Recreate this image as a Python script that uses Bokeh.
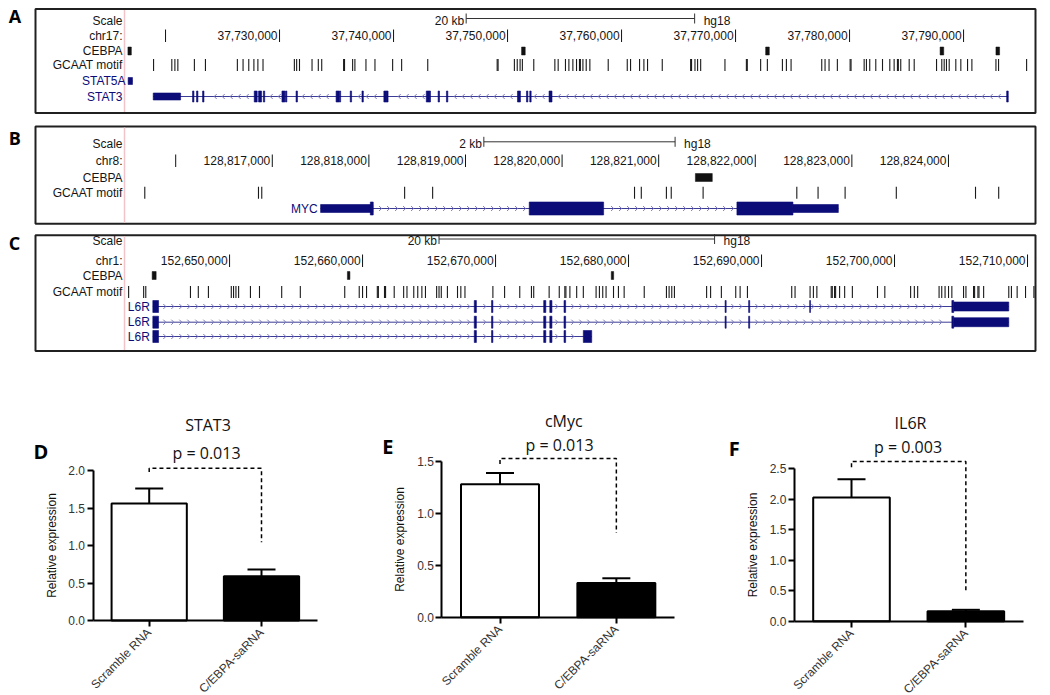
import math
import numpy as np
from bokeh.plotting import figure
from bokeh.layouts import column, row
from bokeh.models import (Range1d, ColumnDataSource, LinearAxis, FixedTicker,
                          NumeralTickFormatter, Whisker, TeeHead)
from bokeh.core.properties import value
from bokeh.embed import file_html
from bokeh.resources import INLINE

# ======================= DATA =======================
# ---- Panel A : chr17 (hg18), STAT3 locus ----
A_chrom = "chr17:"
A_view = [37716400, 37796310]
A_ticks = [37720000, 37730000, 37740000, 37750000, 37760000, 37770000, 37780000, 37790000]
A_tick_labels = ["", "37,730,000", "37,740,000", "37,750,000", "37,760,000",
                 "37,770,000", "37,780,000", "37,790,000"]
A_scalebar = [37746370, 37766410]
A_scalebar_label = "20 kb"
A_cebpa_start = [37716700, 37751230, 37772640, 37787940, 37792840]
A_cebpa_end = [37717000, 37751550, 37772960, 37788260, 37793160]
A_motifs = [37718950, 37720550, 37720820, 37721080, 37722530, 37723500,
            37726300, 37726800, 37727300, 37727750, 37728100, 37728550,
            37731300, 37731500, 37731750, 37732850, 37733400, 37733700,
            37735620, 37735700, 37736410, 37736610, 37737580, 37738370,
            37739920, 37740710, 37743000, 37749090, 37749170, 37750600,
            37750850, 37751100, 37751300, 37752300, 37754150, 37754440,
            37755080, 37755380, 37755730, 37756050, 37756310, 37756390,
            37756610, 37756900, 37757220, 37758830, 37760500, 37760790,
            37761580, 37761960, 37762280, 37763570, 37766060, 37766140,
            37766440, 37766670, 37766940, 37769070, 37770950, 37771030,
            37772200, 37772790, 37774110, 37774460, 37774870, 37777560,
            37777850, 37778200, 37778930, 37780050, 37780130, 37781280,
            37781480, 37781770, 37782300, 37782890, 37783530, 37783910,
            37784200, 37784280, 37784490, 37785230, 37785670, 37787630,
            37788090, 37788300, 37788500, 37788740, 37789320, 37789760,
            37790350, 37790730, 37792840, 37793070, 37795530]
STAT5A_tx = [37716720, 37717100]
STAT5A_strand = 1
STAT5A_exon_start = [37716720]
STAT5A_exon_end = [37717100]
STAT5A_exon_kind = ["utr"]
STAT3_tx = [37718920, 37793920]
STAT3_strand = -1
STAT3_exon_start = [37718920, 37722370, 37722720, 37723250, 37727780, 37728160, 37728580,
                    37730210, 37730520, 37731450, 37734960, 37735240, 37736200, 37737230,
                    37739150, 37739400, 37742870, 37743120, 37743910, 37744640, 37750870,
                    37751660, 37751950, 37753640, 37793780]
STAT3_exon_end = [37721320, 37722490, 37722840, 37723370, 37728040, 37728420, 37728700,
                  37730470, 37730640, 37731570, 37735220, 37735360, 37736320, 37737350,
                  37739410, 37739520, 37743130, 37743240, 37744030, 37744760, 37751130,
                  37751780, 37752070, 37753900, 37793920]
STAT3_exon_kind = ["utr", "cds", "cds", "cds", "cds", "cds", "cds", "cds", "cds", "cds",
                   "cds", "cds", "cds", "cds", "cds", "cds", "cds", "cds", "cds", "cds",
                   "cds", "cds", "cds", "cds", "cds"]

# ---- Panel B : chr8 (hg18), MYC locus ----
B_chrom = "chr8:"
B_view = [128815470, 128824901]
B_ticks = [128816000, 128817000, 128818000, 128819000, 128820000, 128821000,
           128822000, 128823000, 128824000]
B_tick_labels = ["", "128,817,000", "128,818,000", "128,819,000", "128,820,000",
                 "128,821,000", "128,822,000", "128,823,000", "128,824,000"]
B_scalebar = [128819190, 128821170]
B_scalebar_label = "2 kb"
B_cebpa_start = [128821380]
B_cebpa_end = [128821555]
B_motifs = [128815680, 128816857, 128816891, 128818370, 128818660, 128820750,
            128820820, 128821080, 128821130, 128821460, 128822430, 128822650,
            128822930, 128823460, 128824280, 128824520]
MYC_tx = [128817500, 128822860]
MYC_strand = 1
MYC_exon_start = [128817500, 128818015, 128819660, 128821810, 128822390]
MYC_exon_end = [128818040, 128818045, 128820430, 128822390, 128822860]
MYC_exon_kind = ["utr", "cds", "cds", "cds", "utr"]

# ---- Panel C : chr1 (hg18), IL6R locus ----
C_chrom = "chr1:"
C_view = [152642100, 152710600]
C_ticks = [152650000, 152660000, 152670000, 152680000, 152690000, 152700000, 152710000]
C_tick_labels = ["152,650,000", "152,660,000", "152,670,000", "152,680,000",
                 "152,690,000", "152,700,000", "152,710,000"]
C_scalebar = [152665750, 152686470]
C_scalebar_label = "20 kb"
C_cebpa_start = [152644180, 152658860, 152678700]
C_cebpa_end = [152644480, 152659050, 152678880]
C_motifs = [152642410, 152643540, 152643700, 152647060, 152647650, 152648410,
            152650130, 152650300, 152650480, 152650680, 152651570, 152652250,
            152653920, 152655320, 152658660, 152659750, 152660000, 152660300,
            152661110, 152661190, 152661650, 152661730, 152662380, 152663090,
            152663340, 152663850, 152664150, 152664460, 152664730, 152665570,
            152665750, 152665920, 152666380, 152667140, 152667390, 152667700,
            152669800, 152670680, 152671820, 152672700, 152672870, 152674030,
            152674790, 152675210, 152675290, 152675590, 152676100, 152676600,
            152677560, 152677810, 152678060, 152678310, 152678870, 152679240,
            152679670, 152681180, 152682850, 152683050, 152683250, 152683450,
            152685870, 152686170, 152686980, 152688060, 152688390, 152688940,
            152692270, 152692520, 152693650, 152693900, 152694160, 152695240,
            152695320, 152695490, 152695570, 152695870, 152696250, 152696830,
            152698720, 152699270, 152701210, 152701490, 152701740, 152703350,
            152703550, 152703800, 152704060, 152704310, 152705190, 152705370,
            152705940, 152706020, 152706270, 152706350, 152706700, 152708590,
            152708790, 152709220, 152709850, 152710480]
IL6R_label = "L6R"
IL6R_strand = 1
IL6R_1_tx = [152644230, 152708590]
IL6R_1_exon_start = [152644230, 152668400, 152669700, 152673620, 152674080, 152675150,
                     152687260, 152689030, 152693620, 152704310, 152704450]
IL6R_1_exon_end = [152644660, 152668560, 152669800, 152673780, 152674240, 152675270,
                   152687340, 152689110, 152693680, 152704450, 152708590]
IL6R_1_exon_kind = ["cds", "cds", "cds", "cds", "cds", "cds", "cds", "cds", "cds", "cds", "utr"]
IL6R_2_tx = [152644230, 152708590]
IL6R_2_exon_start = [152644230, 152668400, 152669700, 152673620, 152674080, 152675150,
                     152687260, 152689030, 152704310, 152704450]
IL6R_2_exon_end = [152644660, 152668560, 152669800, 152673780, 152674240, 152675270,
                   152687340, 152689110, 152704450, 152708590]
IL6R_2_exon_kind = ["cds", "cds", "cds", "cds", "cds", "cds", "cds", "cds", "cds", "utr"]
IL6R_3_tx = [152644230, 152677230]
IL6R_3_exon_start = [152644230, 152668400, 152669700, 152673620, 152674080, 152675150, 152676600]
IL6R_3_exon_end = [152644660, 152668560, 152669800, 152673780, 152674240, 152675270, 152677230]
IL6R_3_exon_kind = ["cds", "cds", "cds", "cds", "cds", "cds", "cds"]

# ---- Panels D-F : qPCR bar charts ----
categories = ["Scramble RNA", "C/EBPA-saRNA"]
STAT3_mean = [1.56, 0.59]
STAT3_sem = [0.20, 0.09]
cMyc_mean = [1.28, 0.33]
cMyc_sem = [0.11, 0.045]
IL6R_mean = [2.03, 0.165]
IL6R_sem = [0.30, 0.022]
D_yticks = [0.0, 0.5, 1.0, 1.5, 2.0]
E_yticks = [0.0, 0.5, 1.0, 1.5]
F_yticks = [0.0, 0.5, 1.0, 1.5, 2.0, 2.5]
# bracket: [left stub end, top, right leg end]
D_bracket = [1.98, 2.03, 1.045]
E_bracket = [1.477, 1.53, 0.81]
F_bracket = [2.525, 2.62, 0.476]
D_p = "p = 0.013"
E_p = "p = 0.013"
F_p = "p = 0.003"

# ======================= STYLE / LAYOUT =======================
FONT = "Liberation Sans"
TFONT = "Open Sans"
NAVY = "#0c0c78"
INTRON = "#3c3c96"
CHEV = "#7a7ac2"
INK = "#151515"
PAGE_L = 0
W = 1050
BOX_L, BOX_R, PINK_X, LABEL_R = 35, 1035, 124, 122


def txt(p, x, y, text, size, color=INK, align="left", baseline="middle",
        font=FONT, style="normal", x_offset=0, angle=0.0):
    p.text(x=x, y=y, text=text, text_font=value(font), text_font_size=f"{size}px",
           text_color=color, text_align=align, text_baseline=baseline,
           text_font_style=style, x_offset=x_offset, angle=angle)


def genome_panel(fig_top, fig_bottom, box_top, box_bottom, letter, letter_base,
                 view, rows, chrom, ticks, tick_labels, scalebar, scalebar_label,
                 cebpa_start, cebpa_end, motifs, genes, exon_h):
    g0, g1 = view
    bpp = (g1 - g0) / (BOX_R - PINK_X)

    def gx(px):
        return g0 + (px - PINK_X) * bpp

    p = figure(width=W, height=fig_bottom - fig_top,
               x_range=Range1d(gx(PAGE_L), gx(PAGE_L + W)),
               y_range=Range1d(fig_bottom, fig_top),
               x_axis_type=None, y_axis_type=None, output_backend="svg",
               toolbar_location=None, min_border=0)
    p.outline_line_color = None
    p.background_fill_color = "white"

    # panel box and track-label separator
    p.quad(left=[gx(BOX_L)], right=[gx(BOX_R)], top=[box_top], bottom=[box_bottom],
           fill_color=None, line_color="#202020", line_width=2)
    p.segment(x0=[g0], x1=[g0], y0=[box_top + 1], y1=[box_bottom - 1],
              line_color="#f2c4ca", line_width=1.5)
    txt(p, [gx(8.3)], [letter_base], [letter], 18, color="#000000",
        baseline="alphabetic", font=TFONT, style="bold")

    # track labels
    txt(p, [gx(LABEL_R)] * 4, [rows["scale"], rows["chr"], rows["cebpa"], rows["motif"]],
        ["Scale", chrom, "CEBPA", "GCAAT motif"], 12, align="right")

    # scale bar
    s0, s1 = scalebar
    by = rows["scale"] - 2
    p.segment(x0=[s0, s0, s1], x1=[s1, s0, s1], y0=[by, by - 5, by - 5],
              y1=[by, by + 5, by + 5], line_color="#333333", line_width=1)
    txt(p, [s0], [rows["scale"]], [scalebar_label], 12, align="right", x_offset=-2)
    txt(p, [s1], [rows["scale"]], ["hg18"], 12, align="left", x_offset=9)

    # chromosome ruler
    cy = rows["chr"]
    p.segment(x0=ticks, x1=ticks, y0=[cy - 6] * len(ticks), y1=[cy + 6.5] * len(ticks),
              line_color="#111111", line_width=1)
    lab_x = [t for t, l in zip(ticks, tick_labels) if l]
    lab_t = [l for l in tick_labels if l]
    txt(p, lab_x, [cy] * len(lab_x), lab_t, 12, align="right", x_offset=-2)

    # CEBPA peaks
    ky = rows["cebpa"]
    p.quad(left=cebpa_start, right=cebpa_end, top=[ky - 4] * len(cebpa_start),
           bottom=[ky + 4] * len(cebpa_start), fill_color="#111111",
           line_color="#111111", line_width=0.5)

    # GCAAT motifs
    my = rows["motif"]
    p.segment(x0=motifs, x1=motifs, y0=[my - 6] * len(motifs), y1=[my + 6] * len(motifs),
              line_color="#1a1a1a", line_width=1.1)

    # gene models
    for g in genes:
        y = g["y"]
        t0, t1 = g["tx"]
        starts, ends, kinds = g["start"], g["end"], g["kind"]
        if t1 - t0 > 0:
            p.segment(x0=[t0], x1=[t1], y0=[y], y1=[y], line_color=INTRON, line_width=1)
        # strand chevrons along the introns
        step = 8 * bpp
        arm = 2.5 * bpp
        cand = np.arange(t0 + 5 * bpp, t1 - 3 * bpp, step)
        ok = [float(c) for c in cand
              if all(not (a - 2.5 * bpp <= c <= b + 2.5 * bpp) for a, b in zip(starts, ends))]
        if ok:
            back = -arm if g["strand"] > 0 else arm
            n = len(ok)
            p.segment(x0=ok + ok, x1=[c + back for c in ok] * 2,
                      y0=[y] * (2 * n), y1=[y - 2.5] * n + [y + 2.5] * n,
                      line_color=CHEV, line_width=1)
        hs = [exon_h[k] for k in kinds]
        p.quad(left=starts, right=ends, top=[y - h / 2 for h in hs],
               bottom=[y + h / 2 for h in hs], fill_color=NAVY, line_color=NAVY,
               line_width=0.6)
        if g["label_at"] == "margin":
            txt(p, [gx(g.get("label_r", LABEL_R))], [y], [g["name"]], 12, color=NAVY,
                align="right")
        else:
            txt(p, [t0], [y], [g["name"]], 12, color=NAVY, align="right", x_offset=-3)
    return p


pA = genome_panel(0, 119, 8.5, 112.5, "A", 15.5, A_view,
                  dict(scale=20, chr=35, cebpa=50.5, motif=64.5), A_chrom, A_ticks,
                  A_tick_labels, A_scalebar, A_scalebar_label, A_cebpa_start,
                  A_cebpa_end, A_motifs,
                  [dict(name="STAT5A", y=80.5, tx=STAT5A_tx, strand=STAT5A_strand,
                        start=STAT5A_exon_start, end=STAT5A_exon_end,
                        kind=STAT5A_exon_kind, label_at="margin", label_r=125),
                   dict(name="STAT3", y=96, tx=STAT3_tx, strand=STAT3_strand,
                        start=STAT3_exon_start, end=STAT3_exon_end,
                        kind=STAT3_exon_kind, label_at="margin")],
                  dict(cds=11, utr=7))

pB = genome_panel(119, 229, 126, 223.3, "B", 137, B_view,
                  dict(scale=143.3, chr=160, cebpa=177, motif=192.2), B_chrom, B_ticks,
                  B_tick_labels, B_scalebar, B_scalebar_label, B_cebpa_start,
                  B_cebpa_end, B_motifs,
                  [dict(name="MYC", y=208, tx=MYC_tx, strand=MYC_strand,
                        start=MYC_exon_start, end=MYC_exon_end, kind=MYC_exon_kind,
                        label_at="gene")],
                  dict(cds=13, utr=8))

pC = genome_panel(229, 352, 234.8, 350.5, "C", 242, C_view,
                  dict(scale=240.5, chr=260, cebpa=275, motif=291.5), C_chrom, C_ticks,
                  C_tick_labels, C_scalebar, C_scalebar_label, C_cebpa_start,
                  C_cebpa_end, C_motifs,
                  [dict(name=IL6R_label, y=306, tx=IL6R_1_tx, strand=IL6R_strand,
                        start=IL6R_1_exon_start, end=IL6R_1_exon_end,
                        kind=IL6R_1_exon_kind, label_at="gene"),
                   dict(name=IL6R_label, y=321.7, tx=IL6R_2_tx, strand=IL6R_strand,
                        start=IL6R_2_exon_start, end=IL6R_2_exon_end,
                        kind=IL6R_2_exon_kind, label_at="gene"),
                   dict(name=IL6R_label, y=336, tx=IL6R_3_tx, strand=IL6R_strand,
                        start=IL6R_3_exon_start, end=IL6R_3_exon_end,
                        kind=IL6R_3_exon_kind, label_at="gene")],
                  dict(cds=12, utr=9))

ROW_TOP, ROW_BOTTOM = 352, 695
bar_fills = ["white", "black"]


def bar_panel(geo, letter, letter_pos, title, title_pos, means, sems, yticks,
              bracket, ptext, p_pos):
    L, R, c0, sp, base, ppu = geo

    def X(px):
        return (px - c0) / sp

    def Y(py):
        return (base - py) / ppu

    p = figure(width=R - L, height=ROW_BOTTOM - ROW_TOP,
               x_range=Range1d(X(L), X(R)), y_range=Range1d(Y(ROW_BOTTOM), Y(ROW_TOP)),
               x_axis_type=None, y_axis_type=None, output_backend="svg",
               toolbar_location=None, min_border=0)
    p.outline_line_color = None
    p.grid.visible = False

    idx = list(range(len(categories)))
    src = ColumnDataSource(dict(x=idx, top=means, lower=means,
                                upper=[m + e for m, e in zip(means, sems)],
                                fill=bar_fills))
    p.vbar(x="x", top="top", bottom=0, width=0.67, source=src, fill_color="fill",
           line_color="black", line_width=2)
    p.add_layout(Whisker(source=src, base="x", lower="lower", upper="upper",
                         dimension="height", line_color="black", line_width=2,
                         lower_head=None,
                         upper_head=TeeHead(size=28, line_color="black", line_width=2)))

    # significance bracket
    p.line(x=[idx[0], idx[0], idx[1], idx[1]],
           y=[bracket[0], bracket[1], bracket[1], bracket[2]],
           line_dash="4 3", line_width=1.5, line_color="black")

    # axes
    yax = LinearAxis(fixed_location=idx[0] - 0.5, bounds=(0, yticks[-1]),
                     ticker=FixedTicker(ticks=yticks),
                     formatter=NumeralTickFormatter(format="0.0"),
                     axis_label="Relative expression")
    yax.axis_line_width = 2
    yax.major_tick_line_width = 2
    yax.major_tick_out = 6
    yax.major_tick_in = 0
    yax.minor_tick_line_color = None
    yax.major_label_standoff = 2
    yax.major_label_text_font = FONT
    yax.major_label_text_font_size = "12px"
    yax.major_label_text_color = "#333333"
    yax.axis_label_text_font = FONT
    yax.axis_label_text_font_size = "12px"
    yax.axis_label_text_font_style = "normal"
    yax.axis_label_text_color = "#111111"
    yax.axis_label_standoff = 7
    p.add_layout(yax, "left")

    xax = LinearAxis(fixed_location=0, bounds=(idx[0] - 0.5, idx[-1] + 0.5),
                     ticker=FixedTicker(ticks=idx),
                     major_label_overrides={i: c for i, c in zip(idx, categories)},
                     major_label_orientation=math.pi / 4)
    xax.axis_line_width = 2
    xax.major_tick_line_width = 2
    xax.major_tick_out = 6
    xax.major_tick_in = 0
    xax.minor_tick_line_color = None
    xax.major_label_standoff = 4
    xax.major_label_text_font = FONT
    xax.major_label_text_font_size = "12px"
    xax.major_label_text_color = "#333333"
    p.add_layout(xax, "below")

    # texts
    txt(p, [X(letter_pos[0])], [Y(letter_pos[1])], [letter], 20, color="#000000",
        baseline="alphabetic", font=TFONT, style="bold")
    txt(p, [X(title_pos[0])], [Y(title_pos[1])], [title], 16, color="#111111",
        align="center", baseline="alphabetic", font=TFONT)
    txt(p, [X(p_pos[0])], [Y(p_pos[1])], [ptext], 16, color="#111111",
        align="center", baseline="alphabetic", font=TFONT)
    return p


pD = bar_panel((0, 350, 148.7, 112.3, 620.0, 75.0), "D", (33, 450.5), "STAT3",
               (207.5, 424), STAT3_mean, STAT3_sem, D_yticks, D_bracket, D_p, (206, 452))
pE = bar_panel((350, 700, 499.5, 116.35, 616.7, 103.8), "E", (381.7, 446), "cMyc",
               (563.3, 420), cMyc_mean, cMyc_sem, E_yticks, E_bracket, E_p, (559, 444.5))
pF = bar_panel((700, 1050, 851.0, 114.35, 620.7, 60.96), "F", (728.3, 448), "IL6R",
               (910, 422), IL6R_mean, IL6R_sem, F_yticks, F_bracket, F_p, (907.5, 446))

layout = column(pA, pB, pC, row(pD, pE, pF))

with open("out.html", "w") as f:
    f.write(file_html(layout, INLINE))
